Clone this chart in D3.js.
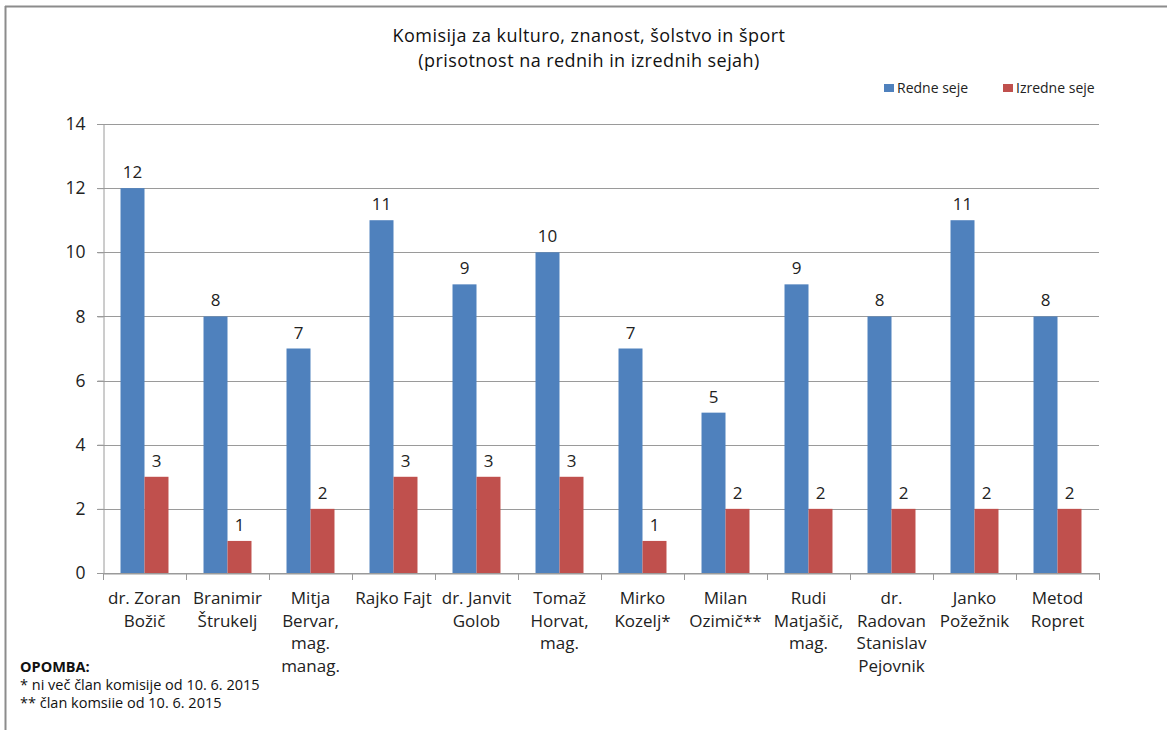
<!DOCTYPE html>
<html><head><meta charset="utf-8">
<script src="https://cdn.jsdelivr.net/npm/d3@7"></script>
<style>body{margin:0;background:#fff}svg{display:block}</style>
</head><body>
<svg id="c" width="1167" height="730"></svg>
<script>
const categories = ["dr. Zoran Božič","Branimir Štrukelj","Mitja Bervar, mag. manag.","Rajko Fajt","dr. Janvit Golob","Tomaž Horvat, mag.","Mirko Kozelj*","Milan Ozimič**","Rudi Matjašič, mag.","dr. Radovan Stanislav Pejovnik","Janko Požežnik","Metod Ropret"];
const categoryLines = [["dr. Zoran","Božič"],["Branimir","Štrukelj"],["Mitja","Bervar,","mag.","manag."],["Rajko Fajt"],["dr. Janvit","Golob"],["Tomaž","Horvat,","mag."],["Mirko","Kozelj*"],["Milan","Ozimič**"],["Rudi","Matjašič,","mag."],["dr.","Radovan","Stanislav","Pejovnik"],["Janko","Požežnik"],["Metod","Ropret"]];
const seriesNames = ["Redne seje","Izredne seje"];
const redne = [12,8,7,11,9,10,7,5,9,8,11,8];
const izredne = [3,1,2,3,3,3,1,2,2,2,2,2];
const yTicks = [0,2,4,6,8,10,12,14];
const titleLines = ["Komisija za kulturo, znanost, šolstvo in šport","(prisotnost na rednih in izrednih sejah)"];
const noteLines = ["OPOMBA:","* ni več član komisije od 10. 6. 2015","** član komsiie od 10. 6. 2015"];
const colors = ["#4F81BD","#C0504D"];

const font = "'Open Sans', sans-serif";
const svg = d3.select("#c");
svg.style("font-family", font);

// outer frame
svg.append("line").attr("x1",5.5).attr("x2",5.5).attr("y1",6).attr("y2",730).attr("stroke","#8c8c8c").attr("stroke-width",2);
svg.append("line").attr("x1",5).attr("x2",1167).attr("y1",6.5).attr("y2",6.5).attr("stroke","#8c8c8c").attr("stroke-width",2);

const L = 103, R = 1099, T = 124, B = 573;
const x = d3.scaleBand().domain(categories).range([L,R]).paddingInner(0).paddingOuter(0);
const inner = d3.scaleBand().domain(seriesNames).range([0, x.bandwidth()]).paddingInner(0).paddingOuter(0.73);
const y = d3.scaleLinear().domain([0,14]).range([B,T]);

// gridlines
svg.append("g").selectAll("line").data(yTicks).join("line")
  .attr("x1",L-6).attr("x2",R).attr("y1",d=>Math.round(y(d))+0.5).attr("y2",d=>Math.round(y(d))+0.5)
  .attr("stroke","#9a9a9a").attr("stroke-width",1);

// y axis
const yAxis = svg.append("g").attr("transform",`translate(${L+0.5},0)`)
  .call(d3.axisLeft(y).tickValues(yTicks).tickSize(6).tickPadding(12));
yAxis.select(".domain").attr("stroke","#9a9a9a");
yAxis.selectAll(".tick line").attr("stroke","#9a9a9a");
yAxis.selectAll(".tick text").attr("font-size",17.5).attr("fill","#222").style("font-family",font);

// x axis
const xAxis = svg.append("g").attr("transform",`translate(0,${Math.round(B)+0.5})`)
  .call(d3.axisBottom(x).tickSize(0).tickFormat(""));
xAxis.select(".domain").attr("stroke","#9a9a9a");
svg.append("g").selectAll("line").data(d3.range(categories.length+1)).join("line")
  .attr("x1",i=>Math.round(L + i*x.step())+0.5).attr("x2",i=>Math.round(L + i*x.step())+0.5)
  .attr("y1",B).attr("y2",B+7).attr("stroke","#9a9a9a");

// bars
const data = categories.map((c,i)=>({c, vals:[redne[i], izredne[i]]}));
const groups = svg.append("g").selectAll("g").data(data).join("g")
  .attr("transform",d=>`translate(${x(d.c)},0)`);
groups.selectAll("rect").data(d=>d.vals.map((v,j)=>({v,s:seriesNames[j],j}))).join("rect")
  .attr("x",d=>inner(d.s)).attr("width",inner.bandwidth())
  .attr("y",d=>y(d.v)).attr("height",d=>y(0)-y(d.v))
  .attr("fill",d=>colors[d.j]);
groups.selectAll("text").data(d=>d.vals.map((v,j)=>({v,s:seriesNames[j],j}))).join("text")
  .attr("x",d=>inner(d.s)+inner.bandwidth()/2).attr("y",d=>y(d.v)-10)
  .attr("text-anchor","middle").attr("font-size",17).attr("fill","#222").text(d=>d.v);

// x labels
const xl = svg.append("g").selectAll("text").data(categories).join("text")
  .attr("text-anchor","middle").attr("font-size",17).attr("fill","#222")
  .attr("transform",d=>`translate(${x(d)+x.bandwidth()/2},604)`);
xl.selectAll("tspan").data((d,i)=>categoryLines[i]).join("tspan")
  .attr("x",0).attr("dy",(d,i)=>i===0?0:22.5).text(d=>d);

// title
svg.append("g").selectAll("text").data(titleLines).join("text")
  .attr("x",589).attr("y",(d,i)=>42+i*25).attr("text-anchor","middle")
  .attr("font-size",18).attr("letter-spacing",0.45).attr("fill","#111").text(d=>d);

// legend
const leg = svg.append("g").selectAll("g").data(seriesNames).join("g")
  .attr("transform",(d,i)=>`translate(${[884,1003][i]},0)`);
leg.append("rect").attr("x",0).attr("y",84).attr("width",10).attr("height",8).attr("fill",(d,i)=>colors[i]);
leg.append("text").attr("x",13).attr("y",93).attr("font-size",14).attr("fill","#222").text(d=>d);

// notes
svg.append("g").selectAll("text").data(noteLines).join("text")
  .attr("x",20).attr("y",(d,i)=>672+i*18).attr("font-size",14.5).attr("fill","#111")
  .attr("font-weight",(d,i)=>i===0?"bold":"normal").text(d=>d);
</script>
</body></html>
